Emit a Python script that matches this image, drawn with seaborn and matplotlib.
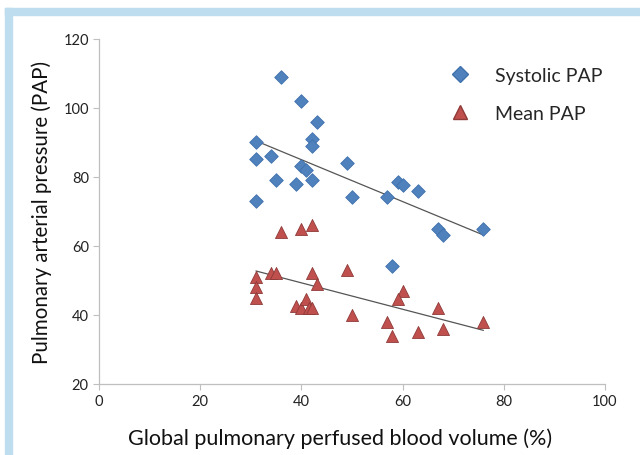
import numpy as np
import matplotlib
matplotlib.use("Agg")
import matplotlib.pyplot as plt
from matplotlib.patches import Rectangle
from matplotlib.lines import Line2D
import seaborn as sns
import pandas as pd

blue = "#4F81BD"
red = "#C0504D"

# Systolic PAP (diamonds)
sys_x = [31, 36, 40, 43, 42, 42, 31, 34, 40, 41, 49, 35, 39, 42, 31, 50, 59, 60, 63, 57, 67, 68, 76, 58]
sys_y = [90, 109, 102, 96, 91, 89, 85, 86, 83, 82, 84, 79, 78, 79, 73, 74, 78.5, 77.5, 76, 74, 65, 63, 65, 54]

# Mean PAP (triangles)
mean_x = [36, 40, 42, 31, 31, 31, 34, 35, 42, 43, 49, 39, 40, 41, 41.5, 42, 50, 60, 59, 67, 57, 58, 63, 68, 76]
mean_y = [64, 65, 66, 51, 48, 45, 52, 52, 52, 49, 53, 42.5, 42, 44.5, 42, 42, 40, 47, 44.5, 42, 38, 34, 35, 36, 38]

sys_df = pd.DataFrame({"x": sys_x, "y": sys_y})
mean_df = pd.DataFrame({"x": mean_x, "y": mean_y})

sns.set_style("white")
plt.rcParams["font.family"] = ["Lato", "DejaVu Sans"]

fig = plt.figure(figsize=(6.4, 4.56), dpi=100)
ax = fig.add_axes([0.155, 0.156, 0.79, 0.757])

# light blue frame of the slide
fig.patches.append(Rectangle((5 / 640, 1 - 16 / 456), 635 / 640, 7 / 456,
                             transform=fig.transFigure, color="#BEDDEE", zorder=0))
fig.patches.append(Rectangle((5 / 640, 0), 7 / 640, 1 - 9 / 456,
                             transform=fig.transFigure, color="#BEDDEE", zorder=0))

sns.regplot(data=sys_df, x="x", y="y", scatter=False, ci=None, truncate=True, ax=ax,
            line_kws={"color": "#555555", "lw": 0.9})
sns.regplot(data=mean_df, x="x", y="y", scatter=False, ci=None, truncate=True, ax=ax,
            line_kws={"color": "#555555", "lw": 0.9})

sns.scatterplot(data=sys_df, x="x", y="y", marker="D", s=48, color=blue,
                edgecolor="#3F72AD", linewidth=0.6, ax=ax, zorder=3)
sns.scatterplot(data=mean_df, x="x", y="y", marker="^", s=75, color=red,
                edgecolor="#8E3A38", linewidth=0.6, ax=ax, zorder=3)

ax.set_xlim(0, 100)
ax.set_ylim(20, 120)
ax.set_xticks([0, 20, 40, 60, 80, 100])
ax.set_yticks([20, 40, 60, 80, 100, 120])
for s in ["top", "right"]:
    ax.spines[s].set_visible(False)
for s in ["left", "bottom"]:
    ax.spines[s].set_color("#BFBFBF")
    ax.spines[s].set_linewidth(0.9)
ax.tick_params(axis="both", length=4, width=0.8, color="#BFBFBF", labelsize=10.5,
               labelcolor="#222222", direction="out", left=True, bottom=True)

ax.set_xlabel("Global pulmonary perfused blood volume (%)", fontsize=15.5, color="#111111")
ax.xaxis.set_label_coords(0.476, -0.125)
ax.set_ylabel("Pulmonary arterial pressure (PAP)", fontsize=14.8, color="#111111", labelpad=8)

handles = [Line2D([], [], ls="", marker="D", ms=8, color=blue, mec="#3F72AD"),
           Line2D([], [], ls="", marker="^", ms=10, color=red, mec="#8E3A38")]
ax.legend(handles, ["Systolic PAP", "Mean PAP"], loc="upper left", bbox_to_anchor=(0.64, 0.97),
          frameon=False, fontsize=14, handletextpad=0.8, labelspacing=1.1)

plt.savefig("out.png", dpi=100)
